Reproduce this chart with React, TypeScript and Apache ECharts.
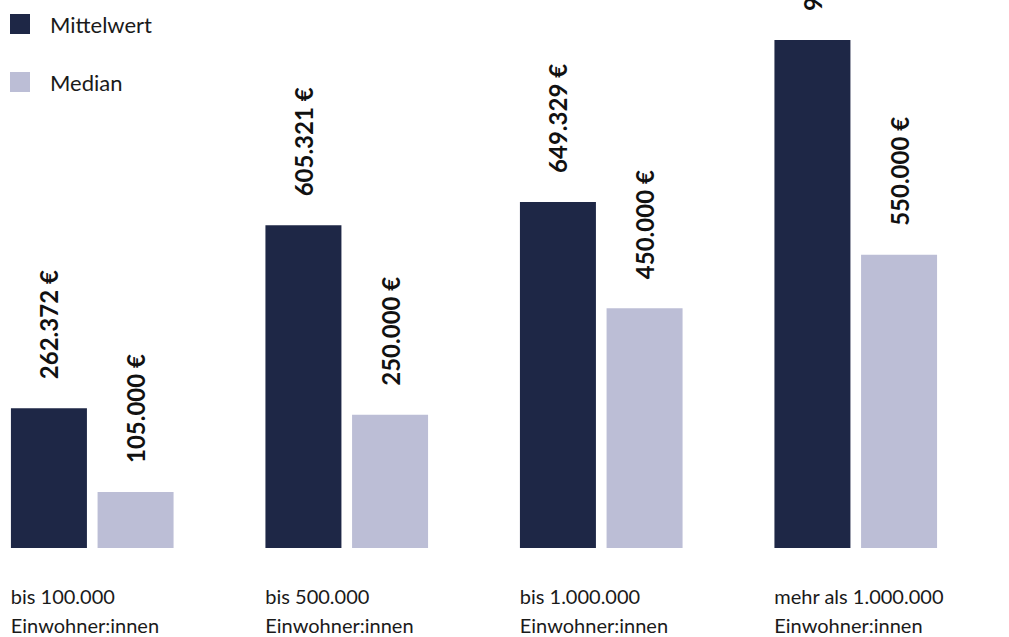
import React, { useEffect, useRef } from "react";
import * as echarts from "echarts";

// Einwohnergrößenklassen (x-axis categories)
const categories: string[] = [
  "bis 100.000\nEinwohner:innen",
  "bis 500.000\nEinwohner:innen",
  "bis 1.000.000\nEinwohner:innen",
  "mehr als 1.000.000\nEinwohner:innen",
];

// Werte in Euro
const mittelwert: number[] = [262372, 605321, 649329, 953126];
const median: number[] = [105000, 250000, 450000, 550000];

const seriesNames = ["Mittelwert", "Median"];
const DARK = "#1e2746";
const LIGHT = "#bcbed6";
const FONT = "Lato, 'Open Sans', sans-serif";

// the chart canvas starts a little left of the page so the first band's
// empty margin falls outside the visible area
const SHIFT = 35;

const euro = (v: number) =>
  v.toString().replace(/\B(?=(\d{3})+(?!\d))/g, ".") + " €";

export default function App() {
  const ref = useRef<HTMLDivElement>(null);

  useEffect(() => {
    if (!ref.current) return;
    const chart = echarts.init(ref.current, undefined, { renderer: "svg" });

    const valueLabel = {
      show: true,
      position: "top" as const,
      rotate: 90,
      align: "left" as const,
      verticalAlign: "middle" as const,
      distance: 29,
      fontFamily: FONT,
      fontWeight: "bold" as const,
      fontSize: 24,
      color: "#111111",
      formatter: (p: any) => euro(p.value),
    };

    chart.setOption({
      animation: false,
      backgroundColor: "#ffffff",
      textStyle: { fontFamily: FONT },
      legend: {
        orient: "vertical",
        left: SHIFT + 5,
        top: 8,
        itemWidth: 20,
        itemHeight: 20,
        itemGap: 36,
        icon: "rect",
        data: seriesNames,
        textStyle: {
          fontFamily: FONT,
          fontSize: 22,
          color: "#1a1a1a",
          padding: [0, 0, 0, 15],
        },
      },
      grid: { left: 0, right: 26, top: 15, bottom: 89, containLabel: false },
      xAxis: {
        type: "category",
        data: categories,
        axisLine: { show: false },
        axisTick: { show: false },
        axisLabel: {
          interval: 0,
          margin: 33,
          align: "center",
          formatter: (v: string) =>
            v
              .split("\n")
              .map((line) => `{a|${line}}`)
              .join("\n"),
          rich: {
            a: {
              width: 163,
              align: "left",
              fontFamily: FONT,
              fontSize: 20,
              lineHeight: 29,
              color: "#1a1a1a",
            },
          },
        },
      },
      yAxis: {
        type: "value",
        min: 0,
        max: 1000000,
        show: false,
        splitLine: { show: false },
      },
      series: [
        {
          name: seriesNames[0],
          type: "bar",
          data: mittelwert,
          barWidth: 76,
          barGap: "14%",
          itemStyle: { color: DARK },
          label: valueLabel,
        },
        {
          name: seriesNames[1],
          type: "bar",
          data: median,
          barWidth: 76,
          barGap: "14%",
          itemStyle: { color: LIGHT },
          label: valueLabel,
        },
      ],
    });

    return () => chart.dispose();
  }, []);

  return (
    <div style={{ position: "fixed", left: 0, top: 0, width: 1009, height: 637, overflow: "hidden", background: "#fff" }}>
      <div
        ref={ref}
        style={{ position: "absolute", left: -SHIFT, top: 0, width: 1009 + SHIFT, height: 637 }}
      />
    </div>
  );
}
